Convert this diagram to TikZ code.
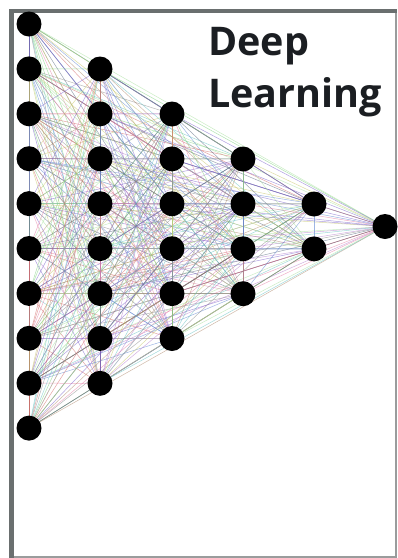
\documentclass[tikz,border=0pt]{standalone}
\usepackage{fontspec}
\setsansfont{Open Sans}
\usetikzlibrary{backgrounds}
% palette for the connections
\definecolor{w0}{HTML}{7FD37F}
\definecolor{w1}{HTML}{E57FA6}
\definecolor{w2}{HTML}{7C62CC}
\definecolor{w3}{HTML}{5F86D2}
\definecolor{w4}{HTML}{B08A6E}
\definecolor{w5}{HTML}{C9C76A}
\definecolor{w6}{HTML}{66C2C4}
\definecolor{w7}{HTML}{8C8C8C}
\definecolor{w8}{HTML}{D46A6A}
\definecolor{w9}{HTML}{A8E29E}
\definecolor{w10}{HTML}{5A6A82}
\definecolor{w11}{HTML}{B77FD0}
\definecolor{frameL}{HTML}{6A6F6F}
\definecolor{frameR}{HTML}{9A9C9C}
\definecolor{ink}{HTML}{1B1E22}
\begin{document}
\begin{tikzpicture}[x=1pt,y=-1pt,
  neuron/.style={circle,fill=black,inner sep=0pt,minimum size=25pt},
  synapse/.style={line width=0.5pt,opacity=0.6},
  heading/.style={font=\sffamily\bfseries\fontsize{39.5}{46}\selectfont,text=ink,inner sep=0pt,anchor=base west}]
\useasboundingbox (0,0) rectangle (398,558);
% neurons: layer / x / first y / count
\newcount\nidx \nidx=0
\foreach \x/\y/\n in {29/24/10, 100/69/8, 172/114/6, 243/159/4, 314/204/2, 385/226.5/1}{
  \foreach \k in {1,...,\n}{
    \global\advance\nidx by 1
    \node[neuron] (n\the\nidx) at (\x,{\y+(\k-1)*44.9}) {};
  }
}
\begin{scope}[on background layer]
% paper and frame
\fill[white] (0,0) rectangle (398,558);
\fill[frameL] (9,9) rectangle (13.5,558);
\fill[frameL] (9,9) rectangle (397,12.5);
\fill[frameR] (395,12.5) rectangle (397,558);
\fill[frameR] (13.5,556) rectangle (397,558);
% connections between every pair of neurons
\pgfmathsetseed{11}
\foreach \i in {1,...,30}{
  \pgfmathtruncatemacro\s{\i+1}
  \foreach \j in {\s,...,31}{
    \pgfmathrandominteger{\c}{0}{11}
    \draw[synapse,color=w\c] (n\i.center) -- (n\j.center);
  }
}
\end{scope}
\node[heading] (t1) at (208,55) {Deep};
\node[heading] (t2) at (208,107) {Learning};
\end{tikzpicture}
\end{document}
